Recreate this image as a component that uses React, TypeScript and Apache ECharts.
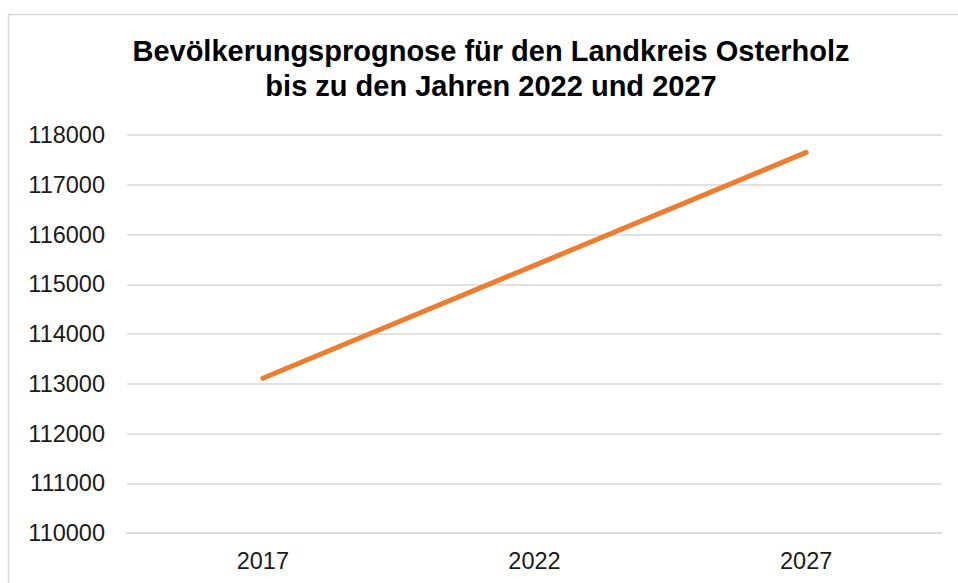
import React, { useEffect, useRef } from "react";
import * as echarts from "echarts";

const categories = ["2017", "2022", "2027"];
const population = [113110, 115380, 117650];
const titleLines = [
  "Bevölkerungsprognose für den Landkreis Osterholz",
  "bis zu den Jahren 2022 und 2027",
];
const yMin = 110000;
const yMax = 118000;
const yStep = 1000;

export default function App() {
  const ref = useRef<HTMLDivElement>(null);
  useEffect(() => {
    if (!ref.current) return;
    const chart = echarts.init(ref.current, undefined, { renderer: "svg" });
    const font = "'Liberation Sans', Arial, Helvetica, sans-serif";
    chart.setOption({
      animation: false,
      backgroundColor: "#ffffff",
      textStyle: { fontFamily: font },
      graphic: [
        {
          type: "rect",
          shape: { x: 8.5, y: 14.5, width: 1000, height: 700 },
          style: { fill: "none", stroke: "#d9d9d9", lineWidth: 1.5 },
          silent: true,
        },
        {
          type: "text",
          x: 491,
          y: 33,
          style: {
            text: titleLines.join("\n"),
            fontFamily: font,
            fontSize: 29,
            fontWeight: "bold",
            lineHeight: 35,
            fill: "#000000",
            align: "center",
            verticalAlign: "top",
          },
        },
      ],
      grid: { left: 127, right: 16, top: 135, bottom: 50, containLabel: false },
      xAxis: {
        type: "category",
        data: categories,
        boundaryGap: true,
        axisLine: { show: true, lineStyle: { color: "#d9d9d9", width: 1.5 } },
        axisTick: { show: false },
        axisLabel: { fontSize: 23.5, color: "#1a1a1a", margin: 16, fontFamily: font },
        splitLine: { show: false },
      },
      yAxis: {
        type: "value",
        min: yMin,
        max: yMax,
        interval: yStep,
        axisLine: { show: false },
        axisTick: { show: false },
        axisLabel: {
          fontSize: 23.5,
          color: "#1a1a1a",
          margin: 22,
          fontFamily: font,
          formatter: (v: number) => String(v),
        },
        splitLine: { show: true, lineStyle: { color: "#d9d9d9", width: 1.5 } },
      },
      series: [
        {
          type: "line",
          data: population,
          symbol: "none",
          lineStyle: { color: "#ED7D31", width: 5, cap: "round" },
        },
      ],
    });
    return () => chart.dispose();
  }, []);
  return (
    <div
      ref={ref}
      style={{ position: "absolute", left: 0, top: 0, width: 958, height: 583 }}
    />
  );
}
